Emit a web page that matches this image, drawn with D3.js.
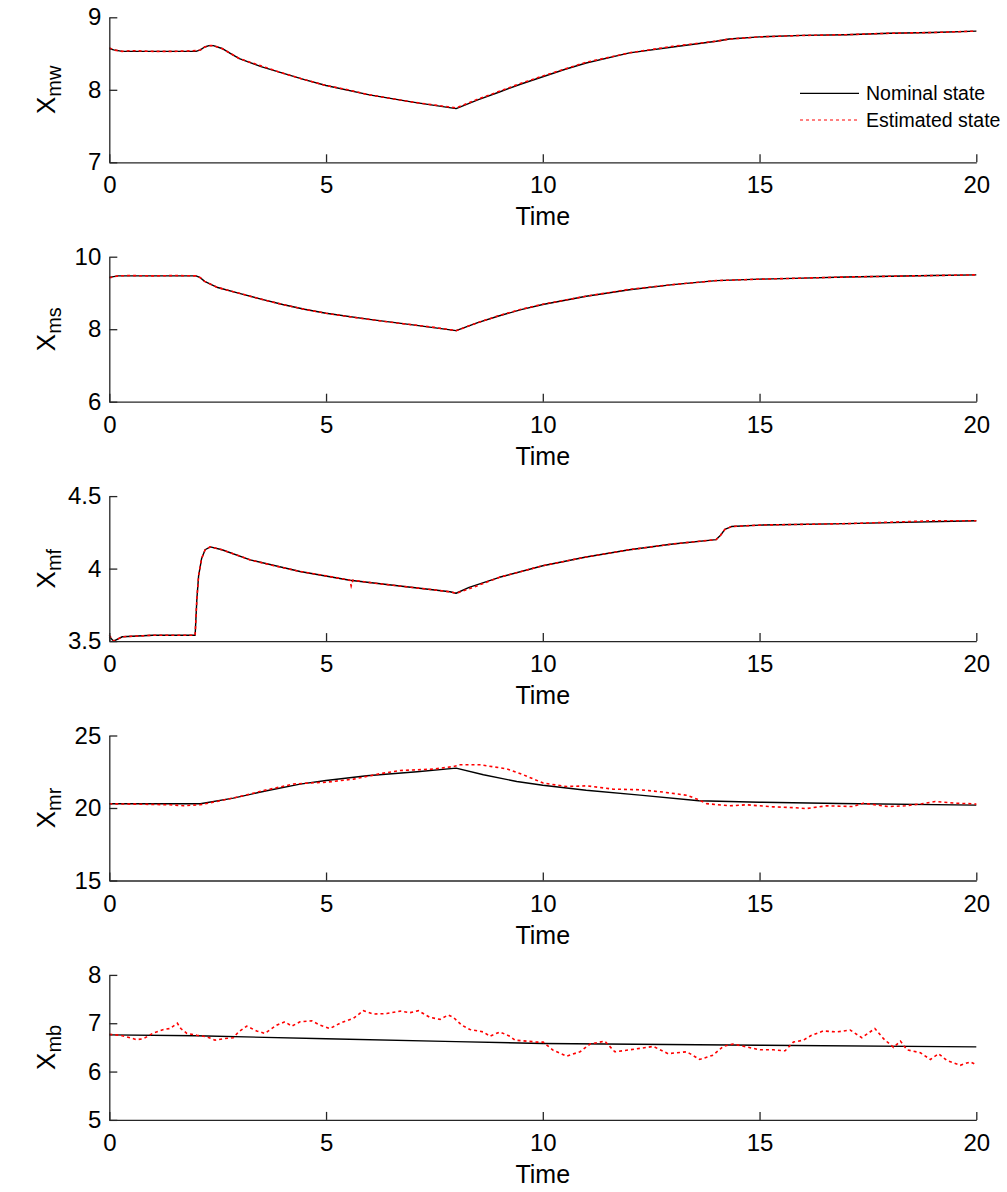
<!DOCTYPE html>
<html>
<head>
<meta charset="utf-8">
<script src="https://cdn.jsdelivr.net/npm/d3@7"></script>
<style>
  body { margin: 0; background: #fff; }
  svg { display: block; }
  text { font-family: "Liberation Sans", Arial, Helvetica, sans-serif; fill: #000; }
</style>
</head>
<body>
<svg id="chart" width="1007" height="1192"></svg>
<script>
// time axis
var timeTicks = [0, 5, 10, 15, 20];

// X_mw
var mwTime = [0, 0.1, 0.3, 1, 2, 2.1, 2.2, 2.3, 2.4, 2.6, 2.8, 3, 3.5, 4, 4.5, 5, 6, 7, 8, 8.5, 9, 9.5, 10, 10.5, 11, 12, 13, 14, 14.3, 15, 16, 17, 18, 19, 20];
var mwNominal = [8.57, 8.55, 8.53, 8.53, 8.53, 8.55, 8.59, 8.61, 8.61, 8.57, 8.50, 8.43, 8.32, 8.23, 8.14, 8.06, 7.93, 7.83, 7.74, 7.86, 7.97, 8.08, 8.18, 8.28, 8.37, 8.51, 8.59, 8.67, 8.70, 8.73, 8.75, 8.76, 8.78, 8.79, 8.81];
var mwEstTime = [0, 0.1, 0.3, 0.5, 1, 1.5, 2, 2.1, 2.2, 2.3, 2.4, 2.6, 2.8, 3, 3.5, 4, 4.5, 5, 5.5, 6, 6.5, 7, 7.5, 8, 8.5, 9, 9.5, 10, 11, 12, 13, 14, 14.3, 15, 16, 17, 18, 19, 20];
var mwEstimated = [8.58, 8.55, 8.53, 8.54, 8.53, 8.53, 8.54, 8.55, 8.59, 8.61, 8.61, 8.57, 8.50, 8.43, 8.33, 8.23, 8.14, 8.06, 8.00, 7.93, 7.88, 7.83, 7.79, 7.75, 7.87, 7.98, 8.09, 8.19, 8.38, 8.51, 8.60, 8.67, 8.70, 8.73, 8.75, 8.76, 8.78, 8.79, 8.81];
var mwTicks = [7, 8, 9];

// X_ms
var msTime = [0, 0.2, 1, 2, 2.1, 2.2, 2.5, 3, 3.5, 4, 4.5, 5, 6, 7, 8, 8.5, 9, 9.5, 10, 11, 12, 13, 14, 15, 16, 17, 18, 19, 20];
var msNominal = [9.43, 9.47, 9.47, 9.47, 9.42, 9.32, 9.15, 8.99, 8.83, 8.68, 8.55, 8.44, 8.27, 8.12, 7.96, 8.18, 8.37, 8.54, 8.68, 8.91, 9.09, 9.23, 9.34, 9.38, 9.41, 9.44, 9.46, 9.48, 9.50];
var msEstTime = [0, 0.2, 0.5, 1, 1.5, 2, 2.1, 2.2, 2.5, 3, 3.5, 4, 4.5, 5, 5.5, 6, 6.5, 7, 7.5, 8, 8.5, 9, 9.5, 10, 11, 12, 13, 14, 15, 16, 17, 18, 19, 20];
var msEstimated = [9.42, 9.47, 9.48, 9.47, 9.48, 9.47, 9.42, 9.32, 9.15, 8.99, 8.83, 8.68, 8.55, 8.44, 8.35, 8.27, 8.19, 8.12, 8.05, 7.96, 8.18, 8.38, 8.55, 8.69, 8.91, 9.10, 9.23, 9.34, 9.38, 9.41, 9.44, 9.46, 9.48, 9.50];
var msTicks = [6, 8, 10];

// X_mf
var mfTime = [0, 0.1, 0.3, 1, 1.98, 2.02, 2.06, 2.13, 2.21, 2.33, 2.6, 3.25, 4.4, 5.55, 6.7, 7.86, 8, 8.3, 9, 10, 11, 12, 13, 14, 14.1, 14.2, 14.35, 15, 17, 20];
var mfNominal = [3.53, 3.50, 3.53, 3.54, 3.54, 3.79, 3.95, 4.07, 4.13, 4.15, 4.13, 4.06, 3.98, 3.92, 3.88, 3.84, 3.83, 3.87, 3.94, 4.02, 4.08, 4.13, 4.17, 4.20, 4.23, 4.27, 4.29, 4.30, 4.31, 4.33];
var mfEstTime = [0, 0.1, 0.3, 1, 1.5, 1.98, 2.02, 2.06, 2.13, 2.21, 2.33, 2.6, 3.25, 3.8, 4.4, 5, 5.55, 5.58, 5.62, 6.1, 6.7, 7.3, 7.86, 8, 8.3, 9, 10, 11, 12, 13, 14, 14.1, 14.2, 14.35, 15, 16, 17, 18, 19, 20];
var mfEstimated = [3.54, 3.50, 3.53, 3.54, 3.54, 3.54, 3.79, 3.95, 4.07, 4.13, 4.15, 4.13, 4.06, 4.02, 3.98, 3.95, 3.92, 3.88, 3.92, 3.90, 3.88, 3.86, 3.84, 3.83, 3.86, 3.94, 4.02, 4.08, 4.13, 4.17, 4.20, 4.23, 4.27, 4.29, 4.30, 4.305, 4.31, 4.32, 4.33, 4.33];
var mfTicks = [3.5, 4, 4.5];

// X_mr
var mrTime = [0, 1, 2.1, 2.86, 3.63, 4.4, 5, 5.94, 7.1, 8, 8.63, 9.4, 10, 11, 12.24, 13.6, 15, 16.84, 20];
var mrNominal = [20.29, 20.29, 20.29, 20.68, 21.19, 21.65, 21.90, 22.22, 22.50, 22.75, 22.29, 21.83, 21.57, 21.22, 20.89, 20.50, 20.40, 20.31, 20.20];
var mrEstTime = [0, 0.5, 0.94, 1.4, 1.71, 2.09, 2.48, 3.01, 3.63, 4.25, 4.6, 5.01, 5.63, 6.24, 6.71, 7.0, 7.47, 7.94, 8.09, 8.55, 9.17, 9.55, 10.01, 10.55, 11.01, 11.62, 12.24, 12.77, 13.32, 13.55, 13.78, 14.31, 14.7, 15.32, 15.8, 16.08, 16.54, 17.16, 17.39, 17.97, 18.36, 18.74, 19.05, 19.51, 19.9, 20];
var mrEstimated = [20.29, 20.27, 20.25, 20.22, 20.16, 20.22, 20.45, 20.79, 21.25, 21.65, 21.72, 21.78, 21.99, 22.36, 22.59, 22.62, 22.68, 22.86, 22.98, 22.98, 22.70, 22.29, 21.72, 21.48, 21.53, 21.30, 21.26, 21.10, 20.88, 20.62, 20.30, 20.15, 20.22, 20.08, 20.02, 19.96, 20.15, 20.10, 20.33, 20.10, 20.15, 20.29, 20.45, 20.33, 20.29, 20.27];
var mrTicks = [15, 20, 25];

// X_mb
var mbTime = [0, 2, 5, 8, 10, 15, 20];
var mbNominal = [6.76, 6.74, 6.68, 6.62, 6.58, 6.545, 6.51];
var mbEstTime = [0, 0.25, 0.48, 0.63, 0.79, 1.02, 1.25, 1.40, 1.57, 1.65, 1.79, 2.02, 2.25, 2.44, 2.63, 2.86, 2.98, 3.17, 3.40, 3.59, 3.86, 4.05, 4.21, 4.40, 4.67, 4.86, 5.09, 5.32, 5.63, 5.86, 6.09, 6.40, 6.71, 6.94, 7.13, 7.40, 7.63, 7.82, 7.94, 8.13, 8.32, 8.63, 8.78, 9.01, 9.24, 9.36, 9.63, 9.86, 10.01, 10.24, 10.55, 10.86, 11.09, 11.43, 11.66, 11.93, 12.24, 12.55, 12.89, 13.32, 13.62, 13.93, 14.16, 14.39, 14.70, 15.01, 15.32, 15.59, 15.78, 16.01, 16.20, 16.47, 16.78, 17.09, 17.36, 17.66, 17.86, 18.09, 18.25, 18.40, 18.71, 18.94, 19.13, 19.32, 19.63, 19.86, 19.98];
var mbEstimated = [6.77, 6.75, 6.70, 6.66, 6.68, 6.80, 6.87, 6.89, 7.00, 6.89, 6.79, 6.75, 6.72, 6.65, 6.68, 6.70, 6.82, 6.94, 6.84, 6.79, 6.96, 7.03, 6.94, 7.03, 7.05, 6.96, 6.89, 7.00, 7.10, 7.26, 7.19, 7.20, 7.25, 7.22, 7.26, 7.12, 7.08, 7.17, 7.12, 6.96, 6.87, 6.82, 6.73, 6.82, 6.73, 6.65, 6.63, 6.61, 6.61, 6.44, 6.32, 6.41, 6.57, 6.63, 6.41, 6.44, 6.48, 6.52, 6.37, 6.41, 6.25, 6.34, 6.52, 6.57, 6.51, 6.45, 6.45, 6.43, 6.61, 6.65, 6.75, 6.84, 6.82, 6.86, 6.70, 6.89, 6.68, 6.50, 6.63, 6.45, 6.39, 6.25, 6.37, 6.23, 6.13, 6.20, 6.15];
var mbTicks = [5, 6, 7, 8];

var legendLabels = ["Nominal state", "Estimated state"];

function zipPts(t, v) { return t.map(function(d, i) { return [d, v[i]]; }); }

var panels = [
  { sub: "mw", nom: zipPts(mwTime, mwNominal), est: zipPts(mwEstTime, mwEstimated), ticks: mwTicks },
  { sub: "ms", nom: zipPts(msTime, msNominal), est: zipPts(msEstTime, msEstimated), ticks: msTicks },
  { sub: "mf", nom: zipPts(mfTime, mfNominal), est: zipPts(mfEstTime, mfEstimated), ticks: mfTicks },
  { sub: "mr", nom: zipPts(mrTime, mrNominal), est: zipPts(mrEstTime, mrEstimated), ticks: mrTicks },
  { sub: "mb", nom: zipPts(mbTime, mbNominal), est: zipPts(mbEstTime, mbEstimated), ticks: mbTicks }
];

var svg = d3.select("#chart");
var left = 109.3, right = 976.3, top0 = 17.3, step = 239.4, ph = 145;
var axisColor = "#262626";

var x = d3.scaleLinear().domain([0, 20]).range([left, right]);

panels.forEach(function(p, i) {
  var top = top0 + step * i;
  var y = d3.scaleLinear().domain(d3.extent(p.ticks)).range([top + ph, top]);
  var g = svg.append("g");

  var line = d3.line()
      .x(function(d) { return x(d[0]); })
      .y(function(d) { return y(d[1]); });

  g.append("path")
      .datum(p.nom)
      .attr("fill", "none")
      .attr("stroke", "#000")
      .attr("stroke-width", 1.4)
      .attr("stroke-linejoin", "round")
      .attr("d", line);

  g.append("path")
      .datum(p.est)
      .attr("fill", "none")
      .attr("stroke", "#ff0000")
      .attr("stroke-width", 1.6)
      .attr("stroke-dasharray", "3,3")
      .attr("d", line);

  var yAxis = d3.axisLeft(y).tickValues(p.ticks).tickSizeInner(-8).tickSizeOuter(0).tickPadding(8)
      .tickFormat(d3.format(""));
  var xAxis = d3.axisBottom(x).tickValues(timeTicks).tickSizeInner(-8).tickSizeOuter(0).tickPadding(14);

  var ya = g.append("g").attr("transform", "translate(" + left + ",0)").call(yAxis);
  var xa = g.append("g").attr("transform", "translate(0," + (top + ph) + ")").call(xAxis);

  [ya, xa].forEach(function(a) {
    a.select(".domain").attr("stroke", axisColor).attr("stroke-width", 1.3);
    a.selectAll(".tick line").attr("stroke", axisColor).attr("stroke-width", 1.3);
    a.selectAll(".tick text").attr("fill", "#000").style("font-size", "24px")
        .style("font-family", "'Liberation Sans', Arial, sans-serif");
  });

  // x label
  g.append("text")
      .attr("x", (left + right) / 2)
      .attr("y", top + ph + 63)
      .attr("text-anchor", "middle")
      .style("font-size", "25px")
      .text("Time");

  // y label
  var cy = top + ph / 2;
  var yl = g.append("text")
      .attr("transform", "translate(55," + cy + ") rotate(-90)")
      .attr("text-anchor", "middle")
      .style("font-size", "26px");
  yl.append("tspan").text("X");
  yl.append("tspan").attr("dy", 6).style("font-size", "20px").text(p.sub);

  // legend in first panel
  if (i === 0) {
    var leg = g.append("g");
    var ly = [93.3, 120];
    legendLabels.forEach(function(lbl, k) {
      leg.append("line")
          .attr("x1", 800).attr("x2", 859)
          .attr("y1", ly[k]).attr("y2", ly[k])
          .attr("stroke", k === 0 ? "#000" : "#ff0000")
          .attr("stroke-width", 1.2)
          .attr("stroke-dasharray", k === 0 ? null : "3,3");
      leg.append("text")
          .attr("x", 866)
          .attr("y", ly[k] + 7)
          .style("font-size", "19.5px")
          .text(lbl);
    });
  }
});
</script>
</body>
</html>
